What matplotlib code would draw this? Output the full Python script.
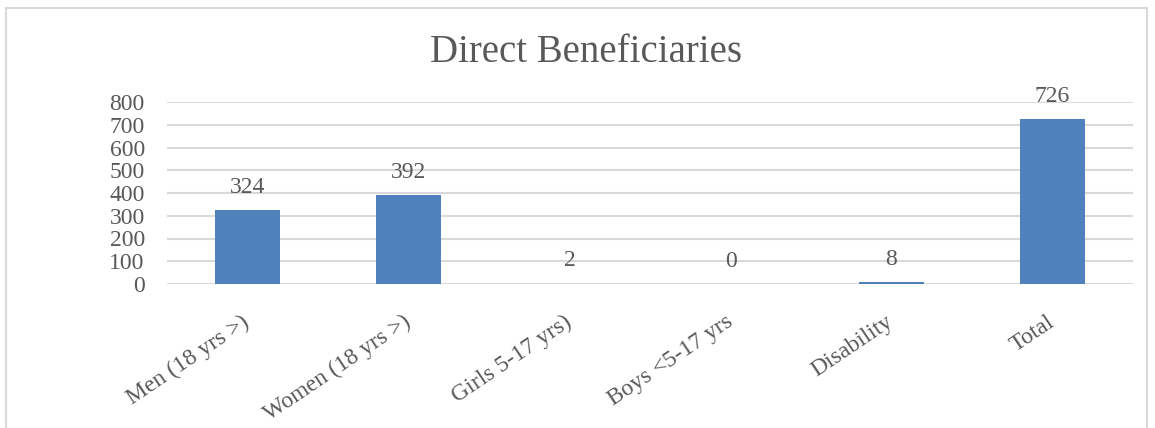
import matplotlib.pyplot as plt
from matplotlib.patches import Rectangle

categories = ["Men (18 yrs >)", "Women (18 yrs >)", "Girls 5-17 yrs)",
              "Boys <5-17 yrs", "Disability", "Total"]
values = [324, 392, 2, 0, 8, 726]
yticks = [0, 100, 200, 300, 400, 500, 600, 700, 800]

W, H = 1155, 428
TEXT = "#595959"
GRID = "#D9D9D9"
BAR = "#4F81BD"

plt.rcParams['font.family'] = ['Liberation Serif', 'DejaVu Serif']

fig = plt.figure(figsize=(W / 100, H / 100), dpi=100)
ax = fig.add_axes([167 / W, 1 - 284 / H, (1133 - 167) / W, (284 - 102) / H])

x = range(len(categories))
ax.bar(x, values, width=0.4, color=BAR, zorder=3)
for i, v in zip(x, values):
    ax.text(i, v + 75, str(v), ha='center', va='baseline', fontsize=17, color=TEXT)

ax.set_xlim(-0.5, len(categories) - 0.5)
ax.set_ylim(0, 800)
ax.set_yticks(yticks)
ax.set_yticklabels([str(t) for t in yticks], fontsize=17, color=TEXT)
ax.set_xticks(list(x))
ax.set_xticklabels(categories, rotation=34, ha='right', va='center',
                   rotation_mode='anchor', fontsize=17, color=TEXT)
ax.tick_params(axis='both', length=0)
ax.tick_params(axis='y', pad=16)
ax.tick_params(axis='x', pad=26)
ax.grid(axis='y', color=GRID, linewidth=1.5, zorder=0)
for s in ax.spines.values():
    s.set_visible(False)

fig.text(586 / W, 1 - 52 / H, "Direct Beneficiaries", ha='center', va='center',
         fontsize=28, color=TEXT)

fig.patches.append(Rectangle((6 / W, -0.1), (1147 - 6) / W, 1.1 - 8 / H,
                             transform=fig.transFigure, fill=False,
                             edgecolor=GRID, linewidth=1.5))

fig.savefig("out.png", dpi=100)
